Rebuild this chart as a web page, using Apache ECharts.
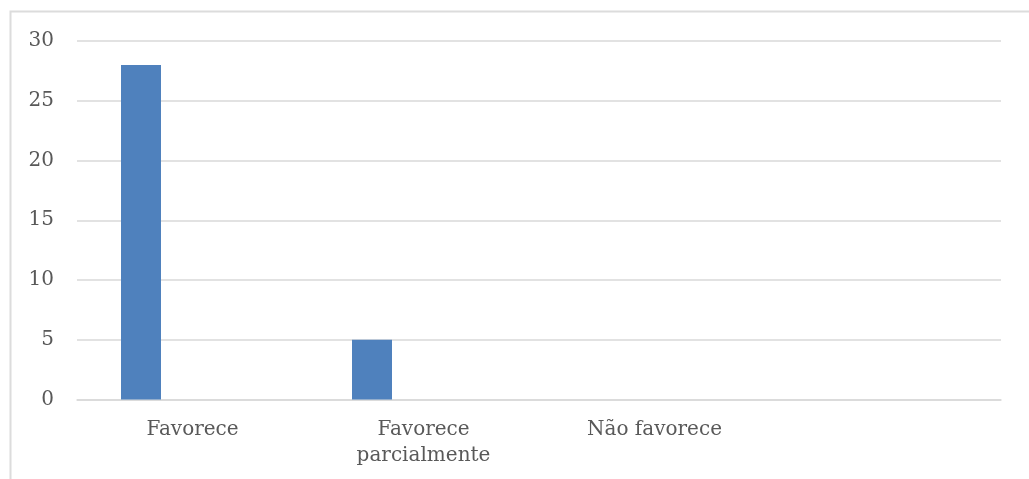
<!DOCTYPE html>
<html>
<head>
<meta charset="utf-8">
<script src="https://cdn.jsdelivr.net/npm/echarts@6/dist/echarts.min.js"></script>
<style>
html,body{margin:0;padding:0;background:#fff;}
#chart{width:1029px;height:479px;}
</style>
</head>
<body>
<div id="chart"></div>
<script>
const categories = ['Favorece', 'Favorece\nparcialmente', 'Não favorece', ''];
const serie1 = [28, 5, 0, null];
const serie2 = [null, null, null, null];
const serie3 = [null, null, null, null];
const yTicks = { min: 0, max: 30, interval: 5 };

const chart = echarts.init(document.getElementById('chart'), null, { renderer: 'canvas' });
const font = 'DejaVu Serif';
const textColor = '#595959';
chart.setOption({
  animation: false,
  backgroundColor: '#fff',
  graphic: [{
    type: 'rect',
    shape: { x: 10.5, y: 11.5, width: 1040, height: 500 },
    style: { fill: 'none', stroke: '#dcdcdc', lineWidth: 2 },
    silent: true
  }],
  grid: { left: 77, right: 28, top: 41, bottom: 79.5, containLabel: false },
  xAxis: {
    type: 'category',
    data: categories,
    axisLine: { show: true, lineStyle: { color: '#d9d9d9', width: 1.5 } },
    axisTick: { show: false },
    axisLabel: { color: textColor, fontFamily: font, fontSize: 20, lineHeight: 26, margin: 17, interval: 0 }
  },
  yAxis: {
    type: 'value',
    min: yTicks.min, max: yTicks.max, interval: yTicks.interval,
    axisLine: { show: false },
    axisTick: { show: false },
    splitLine: { lineStyle: { color: '#d9d9d9', width: 1.5 } },
    axisLabel: { color: textColor, fontFamily: font, fontSize: 20, margin: 23 }
  },
  series: [
    { type: 'bar', name: 'Série 1', data: serie1, barWidth: 40, barGap: '28.75%', itemStyle: { color: '#4f81bd' } },
    { type: 'bar', name: 'Série 2', data: serie2, barWidth: 40, barGap: '28.75%', itemStyle: { color: '#c0504d' } },
    { type: 'bar', name: 'Série 3', data: serie3, barWidth: 40, barGap: '28.75%', itemStyle: { color: '#9bbb59' } }
  ]
});
</script>
</body>
</html>
